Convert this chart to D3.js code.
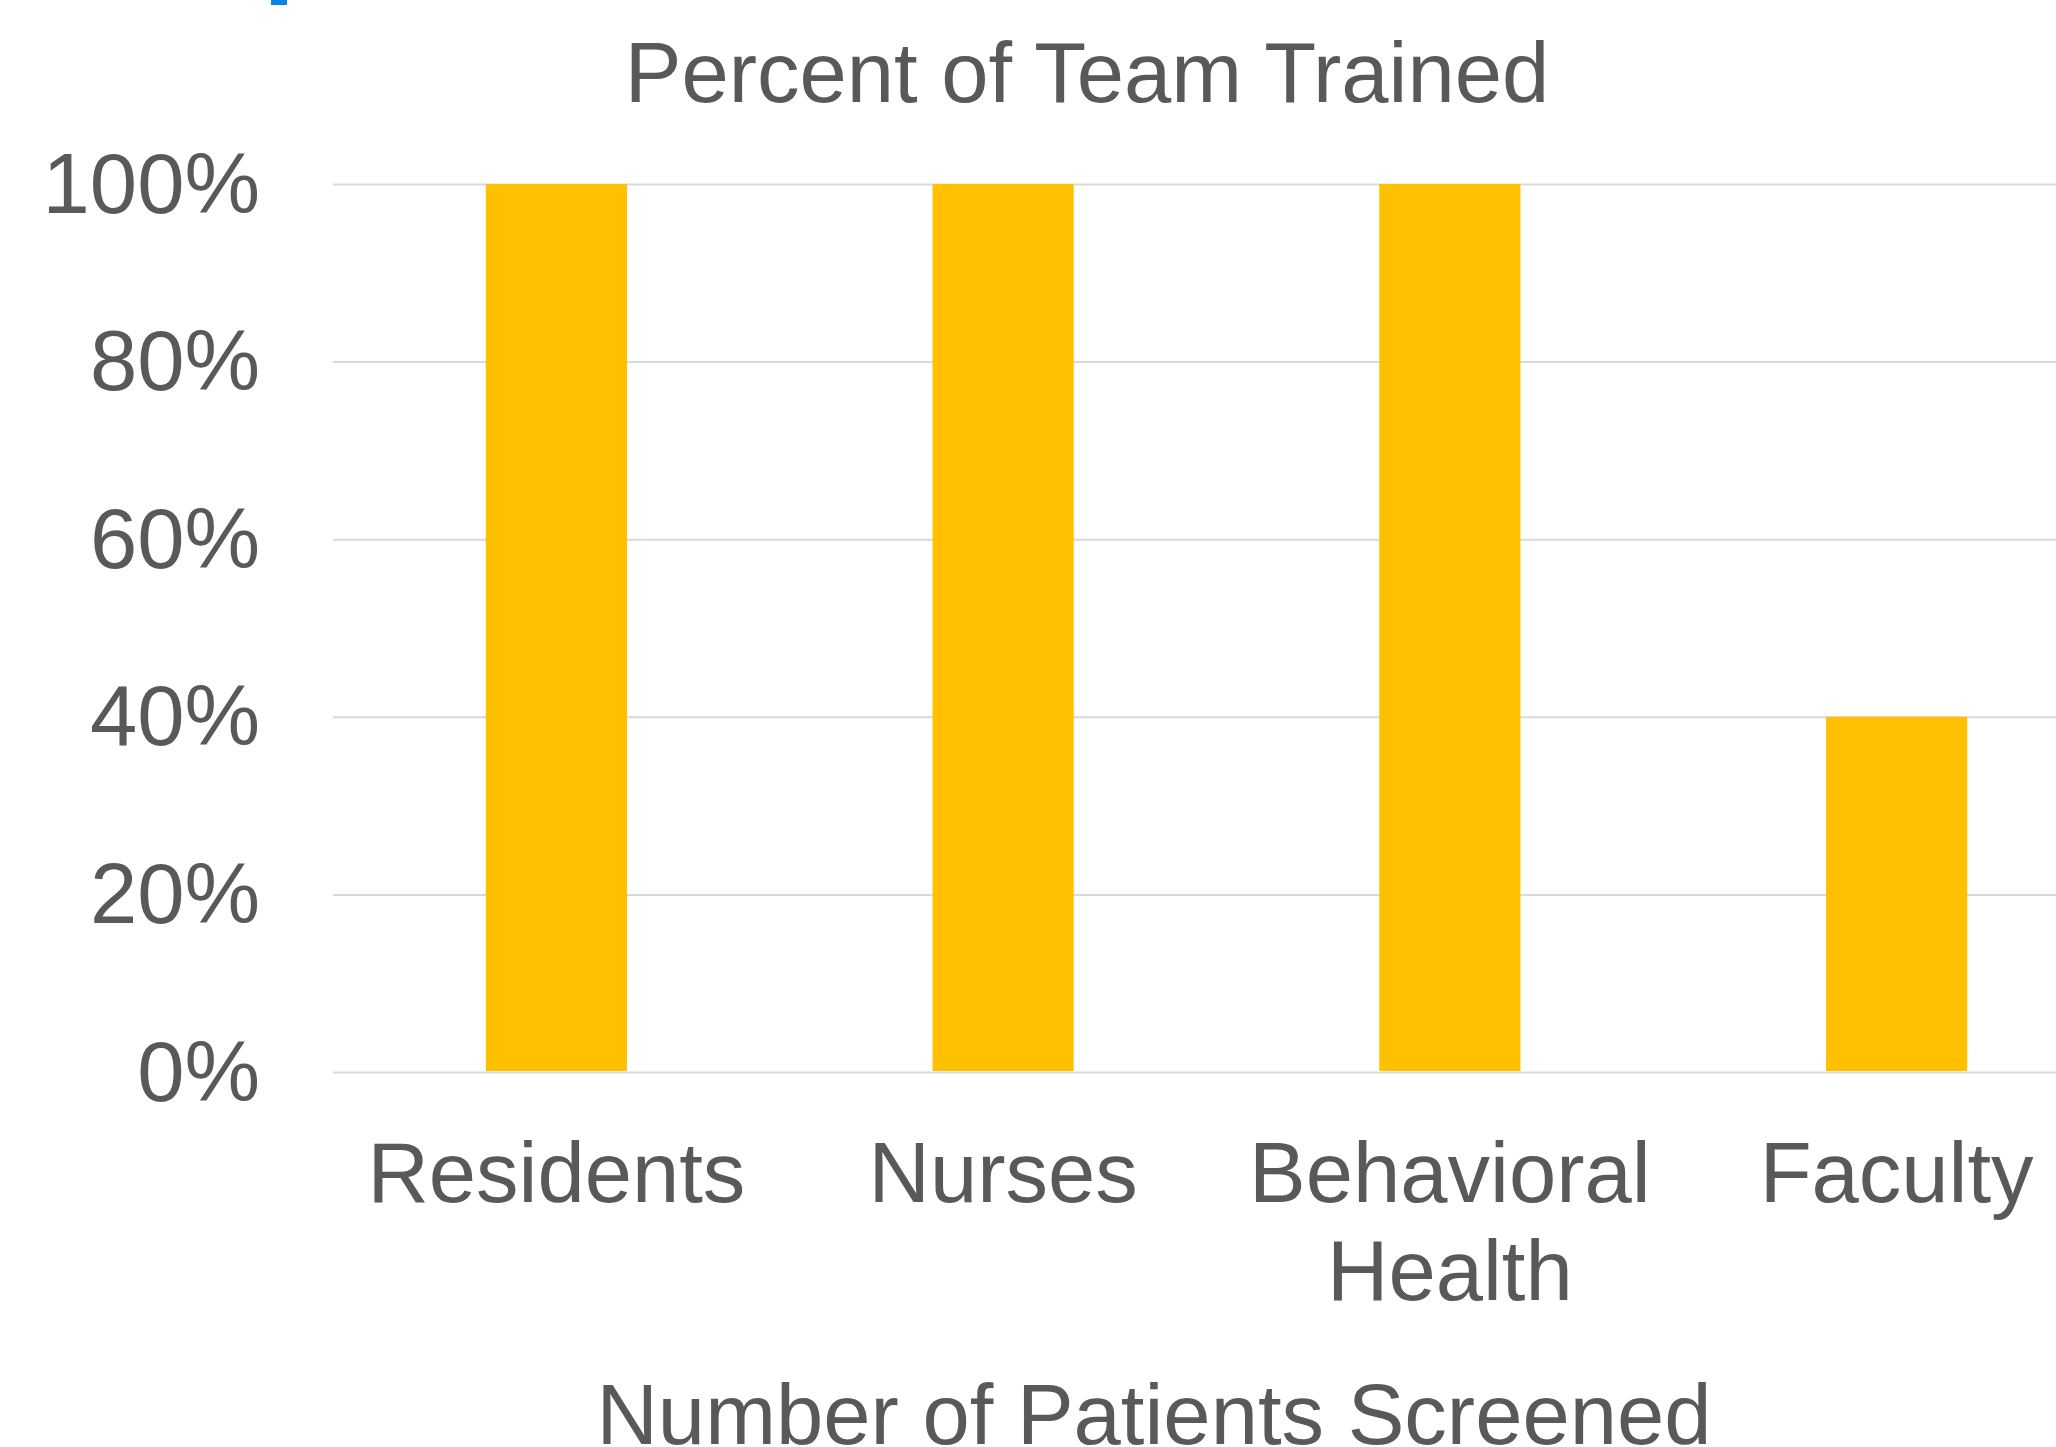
<!DOCTYPE html>
<html>
<head>
<meta charset="utf-8">
<script src="https://cdn.jsdelivr.net/npm/d3@7"></script>
<style>
  body { margin: 0; background: #fff; }
  text { font-family: "Liberation Sans", Arial, sans-serif; fill: #595959; }
</style>
</head>
<body>
<svg id="chart" width="2056" height="1447"></svg>
<script>
// data
var categories = ["Residents", "Nurses", "Behavioral\nHealth", "Faculty"];
var percentTrained = [1.0, 1.0, 1.0, 0.4];
var yTicks = [0, 0.2, 0.4, 0.6, 0.8, 1.0];

var chartTitle = "Percent of Team Trained";
var xTitle = "Number of Patients Screened";

var svg = d3.select("#chart"),
    margin = {top: 184, left: 333},
    width  = 1787,
    height = 888;

var FONT = 85;

var x = d3.scaleBand()
  .domain(categories)
  .range([0, width])
  .paddingInner(0.684)
  .paddingOuter(0.342);

var y = d3.scaleLinear().domain([0, 1]).range([height, 0]);

// small blue mark at top edge of the slide
svg.append("rect")
  .attr("x", 271).attr("y", 0)
  .attr("width", 16).attr("height", 5)
  .attr("fill", "#0b84de");

var plot = svg.append("g")
  .attr("transform", "translate(" + margin.left + "," + margin.top + ")");

// gridlines
var grid = plot.append("g")
  .call(d3.axisLeft(y).tickValues(yTicks).tickSize(-width).tickFormat(""));
grid.select(".domain").remove();
grid.selectAll(".tick line")
  .attr("stroke", "#d9d9d9")
  .attr("stroke-width", 2);

// bars
plot.selectAll(".bar")
  .data(categories)
  .enter().append("rect")
  .attr("class", "bar")
  .attr("x", function(d) { return x(d); })
  .attr("width", x.bandwidth())
  .attr("y", function(d, i) { return y(percentTrained[i]); })
  .attr("height", function(d, i) { return height - y(percentTrained[i]) - 1; })
  .attr("fill", "#ffc000");

// y axis labels
var yAxis = plot.append("g")
  .call(d3.axisLeft(y).tickValues(yTicks).tickSize(0).tickPadding(73)
    .tickFormat(d3.format(".0%")));
yAxis.select(".domain").remove();
yAxis.selectAll("text")
  .attr("font-size", FONT)
  .attr("font-family", null)
  .attr("fill", null)
  .attr("dy", "0.33em");

// x category labels
var xLabels = plot.append("g")
  .selectAll("text")
  .data(categories)
  .enter().append("text")
  .attr("text-anchor", "middle")
  .attr("font-size", FONT)
  .attr("transform", function(d) {
    return "translate(" + (x(d) + x.bandwidth() / 2) + "," + (height + 130) + ")";
  });

xLabels.selectAll("tspan")
  .data(function(d) { return d.split("\n"); })
  .enter().append("tspan")
  .attr("x", 0)
  .attr("y", function(d, i) { return i * 98; })
  .text(function(d) { return d; });

// titles
svg.append("text")
  .attr("x", 1087).attr("y", 102)
  .attr("text-anchor", "middle")
  .attr("font-size", FONT)
  .text(chartTitle);

svg.append("text")
  .attr("x", 1154).attr("y", 1444)
  .attr("text-anchor", "middle")
  .attr("font-size", FONT)
  .text(xTitle);
</script>
</body>
</html>
